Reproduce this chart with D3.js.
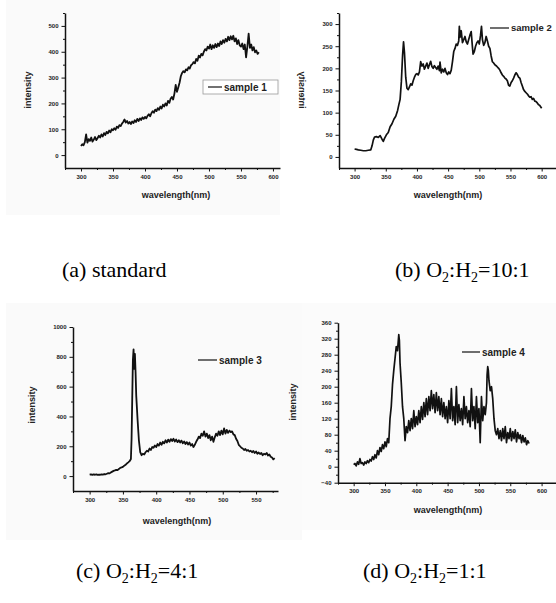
<!DOCTYPE html>
<html>
<head>
<meta charset="utf-8">
<script src="https://cdn.jsdelivr.net/npm/d3@7"></script>
<style>
  body { margin: 0; background: #fff; }
  svg { display: block; }
  .tick text { font-family: "Liberation Sans", Arial, sans-serif; font-weight: bold; font-size: 6px; fill: #222; }
  .lbl { font-family: "Liberation Sans", Arial, sans-serif; font-weight: bold; font-size: 9px; fill: #222; }
  .leg { font-family: "Liberation Sans", Arial, sans-serif; font-weight: bold; font-size: 10px; fill: #222; }
  .cap { font-family: "Liberation Serif", "Times New Roman", serif; font-size: 22px; fill: #000; }
</style>
</head>
<body>
<script>

// Datos: [longitud de onda, intensidad]
const sample1 = [[300,35],[302,42],[304,38],[306,50],[308,80],[310,48],[312,62],[314,55],[316,68],[318,52],[320,60],[322,70],[324,58],[326,66],[328,75],[330,68],[332,80],[334,72],[336,85],[338,78],[340,90],[342,84],[344,95],[346,88],[348,100],[350,96],[352,104],[354,98],[356,110],[358,105],[360,116],[362,112],[364,122],[366,128],[368,138],[370,126],[372,132],[374,122],[376,128],[378,120],[380,130],[382,124],[384,135],[386,128],[388,140],[390,132],[392,142],[394,136],[396,146],[398,140],[400,148],[402,142],[404,152],[406,158],[408,150],[410,162],[412,170],[414,164],[416,176],[418,170],[420,182],[422,175],[424,188],[426,180],[428,195],[430,188],[432,200],[434,192],[436,210],[438,202],[440,218],[442,225],[444,215],[446,238],[448,272],[450,245],[452,262],[454,280],[456,305],[458,318],[460,325],[462,320],[464,332],[466,328],[468,340],[470,335],[472,348],[474,352],[476,360],[478,355],[480,372],[482,365],[484,385],[486,378],[488,392],[490,386],[492,400],[494,410],[496,405],[498,420],[500,412],[502,428],[504,410],[506,425],[508,415],[510,430],[512,418],[514,432],[516,422],[518,440],[520,430],[522,445],[524,435],[526,450],[528,440],[530,458],[532,445],[534,460],[536,448],[538,462],[540,440],[542,452],[544,430],[546,445],[548,425],[550,420],[552,432],[554,410],[556,428],[558,378],[560,420],[562,470],[564,415],[566,428],[568,405],[570,418],[572,398],[574,405],[576,392],[578,398]];

const sample2 = [[300,18],[303,17],[306,16],[310,15],[314,14],[318,14],[322,15],[326,16],[328,25],[330,38],[332,45],[335,46],[338,44],[341,48],[344,40],[346,35],[348,42],[351,50],[354,55],[357,68],[360,75],[363,85],[366,92],[369,105],[371,118],[373,130],[375,170],[377,230],[378.5,260],[380,235],[382,180],[384,155],[386,152],[388,158],[390,165],[392,162],[394,172],[396,180],[398,186],[400,188],[402,185],[404,192],[406,215],[408,205],[410,210],[412,198],[414,205],[416,212],[418,200],[420,208],[422,216],[424,204],[426,200],[428,206],[430,202],[432,198],[434,205],[436,195],[437,214],[439,190],[441,198],[443,192],[445,200],[447,190],[449,186],[451,192],[453,188],[455,196],[457,215],[459,238],[461,245],[463,255],[465,252],[467,262],[468,295],[469,270],[471,285],[473,258],[475,265],[477,272],[479,260],[481,255],[483,265],[485,275],[487,283],[489,248],[490,232],[492,238],[494,250],[496,258],[498,262],[500,255],[502,275],[503.5,295],[505,265],[507,252],[509,258],[511,272],[513,262],[515,250],[517,245],[519,228],[521,215],[523,212],[525,208],[527,206],[529,203],[531,200],[533,196],[535,190],[537,185],[539,182],[541,178],[543,176],[545,172],[547,162],[549,160],[551,168],[553,172],[555,178],[557,185],[559,190],[561,186],[563,180],[565,178],[567,168],[569,160],[571,152],[573,148],[575,145],[577,142],[579,138],[581,135],[583,136],[585,130],[587,132],[589,126],[591,125],[593,122],[595,118],[597,116],[600,110]];

const sample3 = [[300,10],[302,12],[304,8],[306,11],[308,9],[310,12],[312,8],[314,10],[316,9],[318,12],[320,10],[322,14],[324,12],[326,16],[328,20],[330,18],[332,25],[334,30],[336,35],[338,38],[340,42],[342,40],[344,48],[346,55],[348,58],[350,62],[352,70],[354,76],[356,85],[358,92],[360,100],[362,115],[363,250],[364,520],[365,780],[366,850],[367,720],[368,820],[369,700],[370,540],[372,380],[374,240],[376,160],[378,140],[380,150],[382,145],[384,160],[386,170],[388,165],[390,185],[392,175],[394,195],[396,190],[398,205],[400,195],[402,215],[404,205],[406,225],[408,210],[410,230],[412,220],[414,240],[416,225],[418,245],[420,230],[422,248],[424,235],[426,250],[428,232],[430,245],[432,228],[434,240],[436,225],[438,238],[440,220],[442,232],[444,215],[446,228],[448,212],[450,225],[452,205],[454,215],[456,195],[458,210],[460,230],[462,245],[464,265],[466,255],[468,285],[470,270],[472,300],[474,265],[476,285],[478,255],[480,275],[482,240],[484,265],[486,230],[488,260],[490,285],[492,270],[494,300],[496,275],[498,305],[500,280],[502,320],[504,285],[506,310],[508,290],[510,305],[512,295],[514,300],[516,280],[518,275],[520,250],[522,235],[524,210],[526,200],[528,190],[530,185],[532,175],[534,182],[536,170],[538,175],[540,165],[542,170],[544,160],[546,168],[548,155],[550,165],[552,150],[554,158],[556,148],[558,155],[560,140],[562,150],[564,145],[566,155],[568,138],[570,145],[572,130],[574,125],[576,112],[578,120]];

const sample4 = [[300,5],[302,8],[304,2],[306,12],[308,6],[310,20],[312,8],[314,10],[316,4],[318,12],[320,8],[322,15],[324,10],[326,18],[328,14],[330,25],[332,18],[334,30],[336,22],[338,40],[340,30],[342,48],[344,38],[346,55],[348,45],[350,62],[352,50],[354,70],[356,60],[358,120],[360,150],[362,205],[364,240],[366,270],[368,300],[370,290],[372,330],[373,315],[374,260],[376,210],[378,150],[380,120],[382,65],[384,100],[386,85],[388,115],[390,90],[392,120],[394,95],[396,140],[398,100],[400,125],[402,105],[404,140],[406,110],[408,150],[410,118],[412,160],[414,125],[416,170],[418,130],[420,175],[422,140],[424,190],[426,145],[428,180],[430,135],[432,185],[434,140],[436,175],[438,130],[440,170],[442,125],[444,160],[446,120],[448,150],[450,110],[452,165],[454,120],[456,195],[458,115],[460,150],[462,105],[464,200],[466,110],[468,155],[470,115],[472,145],[474,105],[476,175],[478,120],[480,150],[482,110],[484,140],[486,100],[488,195],[490,115],[492,150],[494,95],[496,175],[498,110],[500,145],[502,60],[504,175],[506,115],[508,150],[510,130],[512,160],[513,230],[514,250],[515,240],[516,215],[518,190],[520,200],[522,170],[524,120],[526,90],[528,80],[530,95],[532,70],[534,90],[536,65],[538,95],[540,70],[542,100],[544,60],[546,85],[548,70],[550,95],[552,65],[554,88],[556,70],[558,92],[560,62],[562,85],[564,70],[566,80],[568,60],[570,78],[572,62],[574,72],[576,55],[578,65],[580,58]];

// Ticks
const ticksX = [300, 350, 400, 450, 500, 550, 600];
const ticksXc = [300, 350, 400, 450, 500, 550];
const ticksY1 = [0, 100, 200, 300, 400, 500];
const ticksY2 = [0, 50, 100, 150, 200, 250, 300];
const ticksY3 = [0, 200, 400, 600, 800, 1000];
const ticksY4 = [-40, 0, 40, 80, 120, 160, 200, 240, 280, 320, 360];

// Textos
const nombres = ['sample 1', 'sample 2', 'sample 3', 'sample 4'];
const captions = ['(a) standard', '(b) O|2|:H|2|=10:1', '(c) O|2|:H|2|=4:1', '(d) O|2|:H|2|=1:1'];

var svg = d3.select('body').append('svg')
    .attr('width', 556)
    .attr('height', 603);

// Fondos grises de las imagenes
svg.append('rect').attr('x', 6).attr('y', 0).attr('width', 274).attr('height', 215).attr('fill', '#fafafa');
svg.append('rect').attr('x', 6).attr('y', 303).attr('width', 296).attr('height', 237).attr('fill', '#fafafa');
svg.append('rect').attr('x', 302).attr('y', 303).attr('width', 254).attr('height', 227).attr('fill', '#fbfbfb');

function panel(cfg) {

    const g = svg.append('g');

    const x = d3.scaleLinear().domain(cfg.xd).range(cfg.xr);
    const y = d3.scaleLinear().domain(cfg.yd).range(cfg.yr);

    //Minor ticks
    const xMin = [], yMin = [];
    for (let i = 0; i < cfg.tx.length; i++) {
        if (cfg.tx[i] + cfg.mx <= cfg.xd[1]) xMin.push(cfg.tx[i] + cfg.mx);
        if (i == 0) xMin.push(cfg.tx[0] - cfg.mx);
    }
    for (let i = 0; i < cfg.ty.length; i++) {
        if (cfg.ty[i] + cfg.my <= cfg.yd[1]) yMin.push(cfg.ty[i] + cfg.my);
    }

    g.append('g')
        .attr('transform', 'translate(0,' + cfg.yr[0] + ')')
        .call(d3.axisBottom(x).tickValues(cfg.tx).tickSize(3.5).tickSizeOuter(0).tickPadding(3).tickFormat(d3.format('d')));
    g.append('g')
        .attr('transform', 'translate(0,' + cfg.yr[0] + ')')
        .call(d3.axisBottom(x).tickValues(xMin).tickSize(2).tickFormat('').tickSizeOuter(0))
        .select('.domain').remove();

    g.append('g')
        .attr('transform', 'translate(' + cfg.xr[0] + ',0)')
        .call(d3.axisLeft(y).tickValues(cfg.ty).tickSize(3.5).tickSizeOuter(0).tickPadding(3).tickFormat(d3.format('d')));
    g.append('g')
        .attr('transform', 'translate(' + cfg.xr[0] + ',0)')
        .call(d3.axisLeft(y).tickValues(yMin).tickSize(2).tickFormat('').tickSizeOuter(0))
        .select('.domain').remove();

    g.selectAll('.domain').attr('stroke', '#111').attr('stroke-width', 1.5);
    g.selectAll('.tick line').attr('stroke', '#111').attr('stroke-width', 1);

    //Linea del espectro
    const linea = d3.line().x((d) => x(d[0])).y((d) => y(d[1]));
    g.append('path')
        .datum(cfg.data)
        .attr('d', linea)
        .attr('fill', 'none')
        .attr('stroke', '#111')
        .attr('stroke-width', cfg.sw)
        .attr('stroke-linejoin', 'round');

    //Etiquetas de ejes
    g.append('text')
        .attr('class', 'lbl')
        .attr('x', cfg.xlab[0]).attr('y', cfg.xlab[1])
        .attr('text-anchor', 'middle')
        .text('wavelength(nm)');

    g.append('text')
        .attr('class', 'lbl')
        .attr('text-anchor', 'middle')
        .attr('transform', 'translate(' + cfg.ylab[0] + ',' + cfg.ylab[1] + ') rotate(-90)' + (cfg.flip ? ' scale(1,-1)' : ''))
        .attr('dy', '0.35em')
        .text('intensity');

    //Leyenda
    if (cfg.box) {
        g.append('rect')
            .attr('x', cfg.box[0]).attr('y', cfg.box[1])
            .attr('width', cfg.box[2]).attr('height', cfg.box[3])
            .attr('fill', '#fff').attr('stroke', '#999').attr('stroke-width', 0.8);
    }
    g.append('line')
        .attr('x1', cfg.leg[0]).attr('x2', cfg.leg[0] + cfg.leg[2])
        .attr('y1', cfg.leg[1]).attr('y2', cfg.leg[1])
        .attr('stroke', '#111').attr('stroke-width', 1.2);
    g.append('text')
        .attr('class', 'leg')
        .attr('x', cfg.leg[0] + cfg.leg[2] + 2).attr('y', cfg.leg[1])
        .attr('dy', '0.35em')
        .style('font-size', cfg.legSize || null)
        .text(cfg.nombre);

    //Pie de figura con subindices
    const partes = cfg.cap.split('|');
    const cap = svg.append('text')
        .attr('class', 'cap')
        .attr('x', cfg.capPos[0]).attr('y', cfg.capPos[1]);
    partes.forEach((p, i) => {
        if (i % 2 == 1) {
            cap.append('tspan').attr('font-size', '14px').attr('dy', 5).text(p);
        } else {
            cap.append('tspan').attr('dy', i > 0 ? -5 : 0).text(p);
        }
    });
}

panel({
    data: sample1, xd: [275, 611], xr: [65, 280], yd: [-50, 550], yr: [168, 13],
    tx: ticksX, mx: 25, ty: ticksY1, my: 50, sw: 1.8,
    xlab: [176, 198], ylab: [28, 90],
    box: [203, 80, 75, 14], leg: [208, 87, 14], nombre: nombres[0],
    cap: captions[0], capPos: [62, 277]
});

panel({
    data: sample2, xd: [275, 623], xr: [339, 556], yd: [-25, 325], yr: [168, 13],
    tx: ticksX, mx: 25, ty: ticksY2, my: 25, sw: 1.7, flip: true,
    xlab: [448, 198], ylab: [302, 90],
    leg: [490, 28, 19], nombre: nombres[1], legSize: '9.5px',
    cap: captions[1], capPos: [395, 277]
});

panel({
    data: sample3, xd: [275, 583], xr: [73, 278], yd: [-100, 1000], yr: [491, 327],
    tx: ticksXc, mx: 25, ty: ticksY3, my: 100, sw: 1.8,
    xlab: [177, 524], ylab: [32, 405],
    leg: [198, 360, 19], nombre: nombres[2],
    cap: captions[2], capPos: [76, 578]
});

panel({
    data: sample4, xd: [275, 623], xr: [338, 556], yd: [-40, 360], yr: [482.7, 322.7],
    tx: ticksX, mx: 25, ty: ticksY4, my: 20, sw: 1.7,
    xlab: [448, 513], ylab: [293, 402],
    leg: [462, 352, 18], nombre: nombres[3],
    cap: captions[3], capPos: [363, 578]
});

</script>
</body>
</html>
